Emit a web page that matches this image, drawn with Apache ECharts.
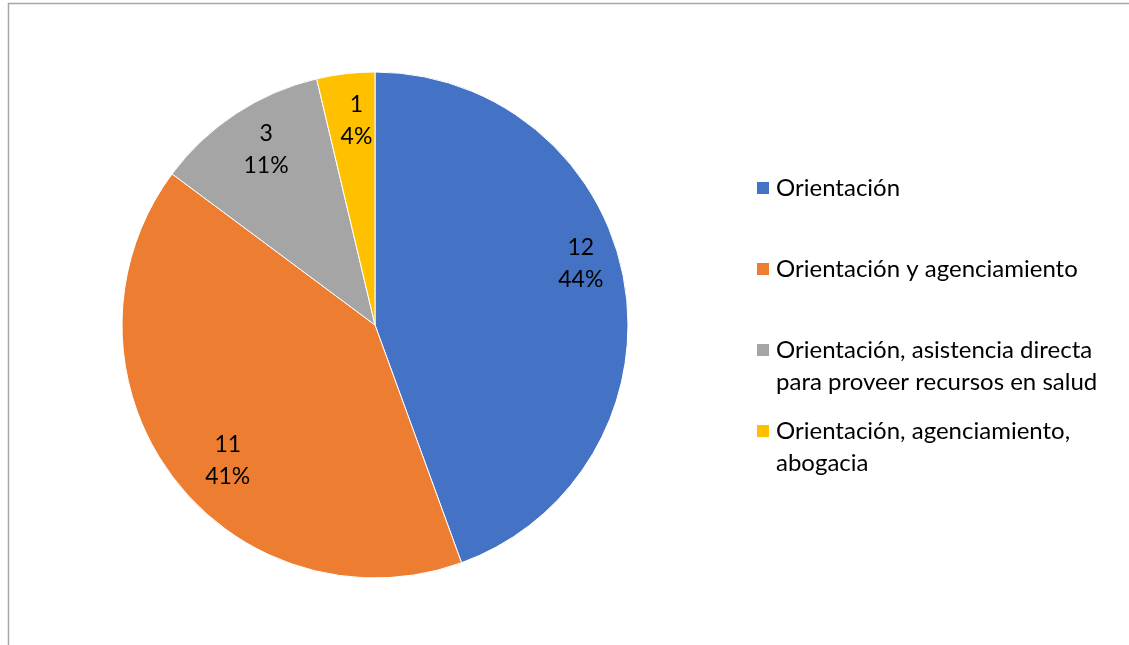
<!DOCTYPE html>
<html>
<head>
<meta charset="utf-8">
<script src="https://cdn.jsdelivr.net/npm/echarts@6/dist/echarts.min.js"></script>
<style>
html,body{margin:0;padding:0;background:#fff;}
#c{width:1129px;height:645px;}
</style>
</head>
<body>
<div id="c"></div>
<script>
const categories = [
  'Orientación',
  'Orientación y agenciamiento',
  'Orientación, asistencia directa\npara proveer recursos en salud',
  'Orientación, agenciamiento,\nabogacia'
];
const values = [12, 11, 3, 1];
const colors = ['#4472C4', '#ED7D31', '#A5A5A5', '#FFC000'];

const FONT = 'Lato, "Open Sans", sans-serif';
// small nudges for data labels (Excel best-fit placement)
const labelNudges = [[-2, -25], [22, 10], [7, 1], [6, 5]];

const data = categories.map((n, i) => ({ name: n, value: values[i], itemStyle: { color: colors[i] } }));

const iconOne = 'rect';
const iconTwo = 'path://M0 0H14V14H0Z M0 46H0.01V45.99H0Z';
const legendTops = [172, 253, 334, 415];
const legends = categories.map((n, i) => ({
  left: 755,
  top: legendTops[i],
  orient: 'vertical',
  padding: 0,
  itemWidth: 14,
  itemHeight: n.includes('\n') ? 46 : 14,
  icon: n.includes('\n') ? iconTwo : iconOne,
  itemGap: 0,
  selectedMode: false,
  data: [n],
  textStyle: { fontFamily: FONT, fontSize: 24, color: '#000', lineHeight: 32, padding: [0, 0, 0, 1] }
}));

const chart = echarts.init(document.getElementById('c'), null, { renderer: 'canvas' });
chart.setOption({
  animation: false,
  backgroundColor: '#fff',
  graphic: [{
    type: 'rect',
    shape: { x: 8.5, y: 3.5, width: 1300, height: 800 },
    style: { fill: 'none', stroke: '#A6A6A6', lineWidth: 1.5 },
    silent: true
  }],
  legend: legends,
  series: [
    {
      type: 'pie',
      center: [375, 325],
      radius: [0, 253],
      startAngle: 90,
      clockwise: true,
      percentPrecision: 0,
      label: { show: false },
      labelLine: { show: false },
      itemStyle: { borderColor: '#fff', borderWidth: 1 },
      data: data
    },
    {
      type: 'pie',
      center: [375, 325],
      radius: [160, 256],
      startAngle: 90,
      clockwise: true,
      percentPrecision: 0,
      silent: true,
      legendHoverLink: false,
      itemStyle: { color: 'rgba(0,0,0,0)', borderWidth: 0 },
      label: {
        show: true,
        position: 'inside',
        formatter: '{c}\n{d}%',
        fontFamily: FONT,
        fontSize: 23,
        lineHeight: 32,
        color: '#000'
      },
      labelLine: { show: false },
      data: categories.map((n, i) => ({ name: n + ' ', value: values[i], label: { offset: labelNudges[i] } }))
    }
  ]
});
</script>
</body>
</html>
